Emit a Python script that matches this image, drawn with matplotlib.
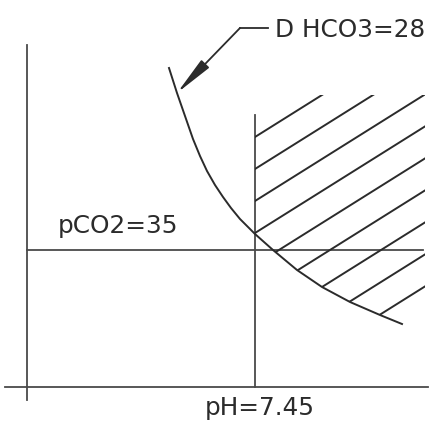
import matplotlib
matplotlib.use("Agg")
import matplotlib.pyplot as plt
from matplotlib.patches import Polygon

# drawing coordinates follow the picture (x right, y down), 436 x 421
INK = "#2b2b2b"
AXIS_INK = "#4a4a4a"

# bicarbonate isopleth (D HCO3=28)
curve_x = [169, 177, 185, 193, 200, 207, 215, 223, 231, 240, 255, 273, 297, 322, 350, 380, 402]
curve_y = [68, 93, 116, 139, 156, 171, 185, 197, 208, 219, 234, 250, 270, 287, 302, 315, 324]

# reference lines
ph_x = 255          # pH=7.45
pco2_y = 250        # pCO2=35
axis_x = 27
axis_y = 387

# hatching: y where each hatch line meets the pH line, and their slope
hatch_y0 = [137, 169, 201, 233, 265, 297, 329, 361, 393]
hatch_slope = 0.627
hatch_top = 95
hatch_right = 425

labels = ["pCO2=35", "pH=7.45", "D HCO3=28"]

fig = plt.figure(figsize=(4.36, 4.21), dpi=100)
ax = fig.add_axes([0, 0, 1, 1])
ax.set_xlim(0, 436)
ax.set_ylim(421, 0)
ax.axis("off")

# axes of the diagram
ax.plot([axis_x, axis_x], [45, 400], color=AXIS_INK, lw=1.3)
ax.plot([5, 428], [axis_y, axis_y], color=AXIS_INK, lw=1.3)

# pCO2 and pH lines
ax.plot([axis_x, 423], [pco2_y, pco2_y], color=AXIS_INK, lw=1.3)
ax.plot([ph_x, ph_x], [115, axis_y], color=AXIS_INK, lw=1.3)

# curve
ax.plot(curve_x, curve_y, color=INK, lw=1.4, solid_joinstyle="round")

# hatched zone, clipped to the region right of pH line and above the curve
clip_pts = [(ph_x, hatch_top), (hatch_right, hatch_top), (hatch_right, 310)]
clip_pts += [(x, y) for x, y in zip(curve_x[::-1], curve_y[::-1]) if x >= ph_x]
clip = Polygon(clip_pts, closed=True, transform=ax.transData, fill=False, visible=False)
ax.add_patch(clip)
for y0 in hatch_y0:
    xs = [ph_x, hatch_right]
    ys = [y0, y0 - hatch_slope * (hatch_right - ph_x)]
    ln, = ax.plot(xs, ys, color=INK, lw=1.4)
    ln.set_clip_path(clip)

# leader with arrow to the curve
ax.plot([268, 240], [28, 28], color=INK, lw=1.3)
ax.annotate("", xy=(curve_x[1], curve_y[1]), xytext=(240, 28),
            arrowprops=dict(arrowstyle="-|>,head_length=2.4,head_width=0.33",
                            color=INK, lw=1.3, shrinkA=0, shrinkB=0))

# labels
font = dict(family="DejaVu Sans", fontsize=17.8, color=INK)
ax.text(58, 233, labels[0], ha="left", va="baseline", **font)
ax.text(205, 415, labels[1], ha="left", va="baseline", **font)
ax.text(275, 37, labels[2], ha="left", va="baseline", **font)

fig.savefig("out.png", dpi=100, facecolor="white")
